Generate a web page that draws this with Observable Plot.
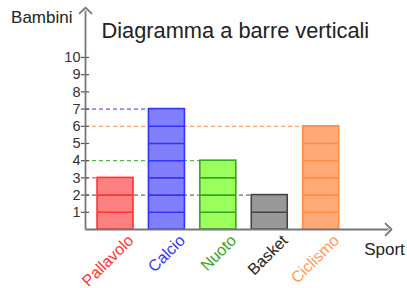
<!DOCTYPE html>
<html>
<head>
<meta charset="utf-8">
<script src="https://cdn.jsdelivr.net/npm/d3@7"></script>
<script src="https://cdn.jsdelivr.net/npm/@observablehq/plot@0.6"></script>
<style>
  html, body { margin: 0; padding: 0; background: #fff; }
  #chart { position: relative; width: 407px; height: 288px; font-family: "Liberation Sans", Arial, sans-serif; }
  #chart svg { position: absolute; left: 0; top: 0; }
</style>
</head>
<body>
<div id="chart"></div>
<script>
// Data
const sports = ["Pallavolo", "Calcio", "Nuoto", "Basket", "Ciclismo"];
const kids = [3, 7, 4, 2, 6];
const fills = ["#ff8080", "#8080ff", "#9cff5c", "#999999", "#ffaa77"];
const strokes = ["#ff3333", "#3333ff", "#33a622", "#444444", "#ff8c40"];
const labelColors = ["#ff3333", "#3333ff", "#33a622", "#222222", "#ff9955"];
const yTicks = [1, 2, 3, 4, 5, 6, 7, 8, 9, 10];
const title = "Diagramma a barre verticali";
const yLabel = "Bambini";
const xLabel = "Sport";

// axis extent in index / value units
const xStart = -0.584, xEnd = 5.31;
const yStart = 0, yEnd = 12.73;
const half = 0.35;

const bars = sports.map((s, i) => ({
  sport: s, i, value: kids[i], fill: fills[i], stroke: strokes[i], label: labelColors[i]
}));
const units = bars.flatMap(b => d3.range(1, b.value).map(k => ({...b, k})));

const plot = Plot.plot({
  width: 407,
  height: 288,
  marginLeft: 85,
  marginRight: 19,
  marginTop: 10,
  marginBottom: 59,
  x: {type: "linear", domain: [xStart, xEnd], axis: null},
  y: {type: "linear", domain: [yStart, yEnd], axis: null},
  style: {fontFamily: "Liberation Sans, Arial, sans-serif", background: "white", overflow: "visible"},
  marks: [
    // dashed guide lines
    Plot.ruleY(bars, {y: "value", x1: xStart, x2: d => d.i - half, stroke: "stroke", strokeDasharray: "4,3", strokeWidth: 1}),
    // bars
    Plot.rectY(bars, {x1: d => d.i - half, x2: d => d.i + half, y1: 0, y2: "value",
      fill: "fill", stroke: "stroke", strokeWidth: 1.6, insetLeft: 0, insetRight: 0}),
    // unit lines
    Plot.ruleY(units, {y: "k", x1: d => d.i - half, x2: d => d.i + half, stroke: "stroke", strokeWidth: 1.6}),
    // y tick marks
    Plot.ruleY(yTicks, {x1: xStart - 0.08, x2: xStart + 0.08, stroke: "#555", strokeWidth: 1.2}),
    Plot.text(yTicks, {x: xStart, y: d => d, text: d => String(d), textAnchor: "end", dx: -5, fontSize: 14.5, fill: "#333"}),
    // axes with arrows
    Plot.link([0], {x1: xStart, y1: yStart, x2: xEnd, y2: yStart, stroke: "#777", strokeWidth: 1.8, markerEnd: "arrow"}),
    Plot.link([0], {x1: xStart, y1: yStart, x2: xStart, y2: yEnd, stroke: "#777", strokeWidth: 1.8, markerEnd: "arrow"}),
    // category labels
    Plot.text(bars, {x: "i", y: 0, text: "sport", fill: "label", rotate: -45, textAnchor: "end",
      lineAnchor: "bottom", dx: 19, dy: 12, fontSize: 16}),
    // axis titles
    Plot.text([yLabel], {x: xStart, y: yEnd, text: d => d, textAnchor: "end", lineAnchor: "bottom", dx: -13, dy: 12, fontSize: 17, fill: "#222"}),
    Plot.text([xLabel], {x: xEnd, y: yStart, text: d => d, textAnchor: "middle", lineAnchor: "bottom", dx: -4, dy: 25, fontSize: 17, fill: "#222"}),
    // title
    Plot.text([title], {x: xStart, y: yEnd, text: d => d, textAnchor: "start", lineAnchor: "bottom", dx: 16, dy: 27, fontSize: 21.8, fill: "#222"})
  ]
});
// enlarge the arrowheads
d3.select(plot).selectAll("marker")
  .attr("markerWidth", 11)
  .attr("markerHeight", 11)
  .attr("stroke-width", 0.9);
document.getElementById("chart").appendChild(plot);
</script>
</body>
</html>
